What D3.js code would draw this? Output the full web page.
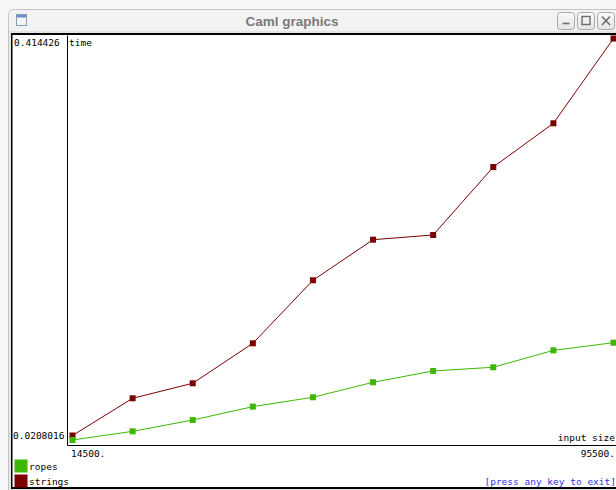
<!DOCTYPE html>
<html>
<head>
<meta charset="utf-8">
<script src="https://cdn.jsdelivr.net/npm/d3@7"></script>
<style>
  html, body { margin: 0; padding: 0; background: #f7f7f7; }
  svg { display: block; }
  .mono { font-family: "DejaVu Sans Mono", "Liberation Mono", monospace; font-size: 9.5px; fill: #000; }
</style>
</head>
<body>
<svg id="chart" width="616" height="490"></svg>
<script>
// Benchmark: time taken per input size, ropes vs. plain strings
const sizes   = [14500, 23500, 32500, 41500, 50500, 59500, 68500, 77500, 86500, 95500];
const ropes   = [0.0208016, 0.0293, 0.0404, 0.0535, 0.0627, 0.0774, 0.0885, 0.0921, 0.1087, 0.1162];
const strings = [0.0252, 0.0617, 0.0764, 0.1156, 0.1774, 0.2172, 0.2218, 0.2884, 0.3313, 0.414426];
const seriesNames  = ["ropes", "strings"];
const seriesColors = ["#3cb800", "#7c0000"];
const yTickLabels  = ["0.414426", "0.0208016"];
const xTickLabels  = ["14500.", "95500."];
const axisTitles   = { y: "time", x: "input size" };
const windowTitle  = "Caml graphics";
const hintText     = "[press any key to exit]";

const W = 616, H = 490;
const svg = d3.select("#chart");

// ---- window chrome ----
const defs = svg.append("defs");
const grad = defs.append("linearGradient").attr("id", "tb").attr("x1", 0).attr("y1", 0).attr("x2", 0).attr("y2", 1);
grad.append("stop").attr("offset", "0%").attr("stop-color", "#f3f3f3");
grad.append("stop").attr("offset", "100%").attr("stop-color", "#e2e2e2");
const bgrad = defs.append("linearGradient").attr("id", "btn").attr("x1", 0).attr("y1", 0).attr("x2", 0).attr("y2", 1);
bgrad.append("stop").attr("offset", "0%").attr("stop-color", "#fafafa");
bgrad.append("stop").attr("offset", "100%").attr("stop-color", "#e4e4e4");

svg.append("rect").attr("width", W).attr("height", H).attr("fill", "#f7f7f7");
svg.append("rect").attr("x", 8.5).attr("y", 9.5).attr("width", W + 20).attr("height", H + 20)
  .attr("rx", 5).attr("fill", "url(#tb)").attr("stroke", "#c4c4c4");
svg.append("rect").attr("x", 9).attr("y", 31).attr("width", W).attr("height", H).attr("fill", "#e4e4e4");

// window icon
const icon = svg.append("g");
icon.append("rect").attr("x", 16.5).attr("y", 14.5).attr("width", 10).attr("height", 11)
  .attr("fill", "#f4f4f4").attr("stroke", "#8a9ab0");
icon.append("rect").attr("x", 17).attr("y", 15).attr("width", 9).attr("height", 2.5).attr("fill", "#6f8fd0");

svg.append("text").attr("x", 292).attr("y", 26).attr("text-anchor", "middle")
  .attr("font-family", "Liberation Sans, Arial, sans-serif").attr("font-weight", "bold")
  .attr("font-size", "13.5px").attr("fill", "#7a7a7a").text(windowTitle);

// title bar buttons
const btnX = [557.5, 577.5, 597.5];
btnX.forEach((bx, i) => {
  svg.append("rect").attr("x", bx).attr("y", 12.5).attr("width", 17).attr("height", 17)
    .attr("rx", 3).attr("fill", "url(#btn)").attr("stroke", "#a9a9a9");
  const g = svg.append("g").attr("stroke", "#6c6c6c").attr("fill", "none").attr("stroke-width", 1.6);
  if (i === 0) g.append("line").attr("x1", bx + 5).attr("x2", bx + 12).attr("y1", 23.5).attr("y2", 23.5);
  if (i === 1) g.append("rect").attr("x", bx + 4.5).attr("y", 16.5).attr("width", 8).attr("height", 8).attr("stroke-width", 1.4);
  if (i === 2) {
    g.append("line").attr("x1", bx + 4.5).attr("x2", bx + 12.5).attr("y1", 16.5).attr("y2", 25);
    g.append("line").attr("x1", bx + 12.5).attr("x2", bx + 4.5).attr("y1", 16.5).attr("y2", 25);
  }
});

// drawing area with black border
svg.append("rect").attr("x", 11).attr("y", 33).attr("width", W).attr("height", 456).attr("fill", "#000");
svg.append("rect").attr("x", 12.5).attr("y", 35).attr("width", W).attr("height", 452).attr("fill", "#fff");

// ---- plot ----
const plot = { left: 67, top: 35, bottom: 445, right: W };
const all = ropes.concat(strings);
const x = d3.scaleLinear().domain(d3.extent(sizes)).range([72.5, 613.5]);
const y = d3.scaleLinear().domain(d3.extent(all)).range([440, 38.5]);

// axes drawn as bare lines (no tick marks); d3 adds the half-pixel offset
const yAxisScale = d3.scaleLinear().range([plot.top, plot.bottom]);
svg.append("g").attr("transform", `translate(${plot.left},0)`)
  .call(d3.axisLeft(yAxisScale).tickValues([]).tickSizeOuter(0))
  .select(".domain").attr("stroke", "#000");
const xAxisScale = d3.scaleLinear().range([plot.left, plot.right]);
svg.append("g").attr("transform", `translate(0,${plot.bottom})`)
  .call(d3.axisBottom(xAxisScale).tickValues([]).tickSizeOuter(0))
  .select(".domain").attr("stroke", "#000");

// axis labels
svg.append("text").attr("class", "mono").attr("x", 14).attr("y", 46).text(yTickLabels[0]);
svg.append("text").attr("class", "mono").attr("x", 13).attr("y", 439).text(yTickLabels[1]);
svg.append("text").attr("class", "mono").attr("x", 69).attr("y", 46).text(axisTitles.y);
svg.append("text").attr("class", "mono").attr("x", 615).attr("y", 441).attr("text-anchor", "end").text(axisTitles.x);
svg.append("text").attr("class", "mono").attr("x", 71).attr("y", 457).text(xTickLabels[0]);
svg.append("text").attr("class", "mono").attr("x", 615).attr("y", 457).attr("text-anchor", "end").text(xTickLabels[1]);

// series: strings first, ropes drawn on top
const series = [
  { name: seriesNames[1], color: seriesColors[1], values: strings },
  { name: seriesNames[0], color: seriesColors[0], values: ropes }
];
const line = d3.line().x((d, i) => x(sizes[i])).y(d => y(d));
series.forEach(s => {
  svg.append("path").datum(s.values).attr("d", line)
    .attr("fill", "none").attr("stroke", s.color).attr("stroke-width", 1);
  svg.append("g").selectAll("rect").data(s.values).join("rect")
    .attr("x", (d, i) => x(sizes[i]) - 3).attr("y", d => y(d) - 3)
    .attr("width", 6).attr("height", 6).attr("fill", s.color);
});

// legend
seriesNames.forEach((name, i) => {
  svg.append("rect").attr("x", 14.5).attr("y", 459.5 + i * 15).attr("width", 13).attr("height", 13)
    .attr("fill", seriesColors[i]);
  svg.append("text").attr("class", "mono").attr("x", 29).attr("y", 469.5 + i * 15).text(name);
});

svg.append("text").attr("class", "mono").attr("x", 616).attr("y", 484.5).attr("text-anchor", "end")
  .style("fill", "#2f2ff0").text(hintText);
</script>
</body>
</html>
